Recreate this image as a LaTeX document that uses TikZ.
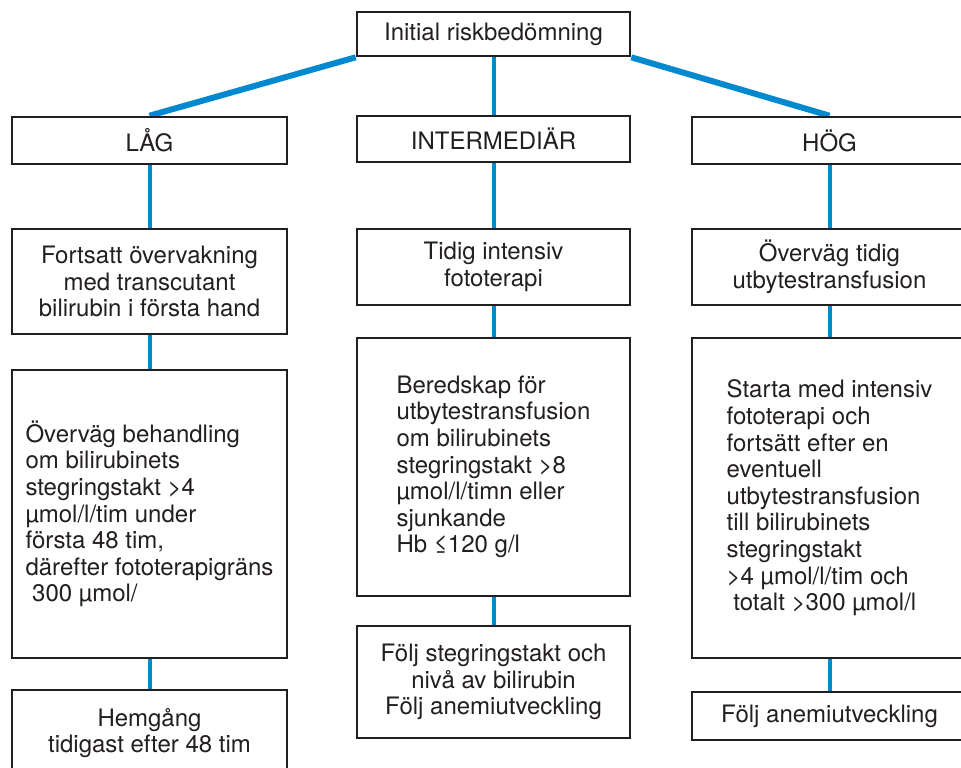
\documentclass[tikz,border=0pt]{standalone}
\usepackage{fontspec}
\setmainfont{TeX Gyre Heros}
\usetikzlibrary{backgrounds}

\definecolor{flodblue}{RGB}{0,137,207}
\definecolor{textgray}{RGB}{35,31,32}

\tikzset{
	ruta/.style={draw=textgray, line width=2.6pt, fill=white, text=textgray,
		font=\fontsize{24}{26.6}\selectfont, inner sep=0pt, align=center},
	gren/.style={draw=flodblue, line width=6pt},
	stam/.style={draw=flodblue, line width=4pt}
}

\begin{document}
\begin{tikzpicture}[x=1pt, y=-1pt]
	\useasboundingbox (0,0) rectangle (961,768);
	
	% Riskbedömning
	\node[ruta, minimum width=273pt, minimum height=44pt] (start) at (493.5, 34) {Initial riskbedömning};
	
	% Risknivåer
	\node[ruta, minimum width=275pt, minimum height=47pt] (lag) at (149.5, 140.5) {LÅG};
	\node[ruta, minimum width=273pt, minimum height=46pt] (inter) at (493.5, 139) {INTERMEDIÄR};
	\node[ruta, minimum width=275pt, minimum height=47pt] (hog) at (829.5, 140.5) {HÖG};
	
	% Första åtgärd
	\node[ruta, minimum width=275pt, minimum height=105pt] (lagA) at (149.5, 281.5) {Fortsatt övervakning\\ med transcutant\\ bilirubin i första hand};
	\node[ruta, minimum width=273pt, minimum height=76pt] (interA) at (493.5, 267) {Tidig intensiv\\ fototerapi};
	\node[ruta, minimum width=275pt, minimum height=76pt] (hogA) at (829.5, 267) {Överväg tidig\\ utbytestransfusion};
	
	% Behandling
	\node[ruta, align=left, minimum width=275pt, minimum height=288pt] (lagB) at (149.5, 514) {Överväg behandling\\ om bilirubinets\\ stegringstakt >4\\ µmol/l/tim under\\ första 48 tim,\\ därefter fototerapigräns\\ \ 300 µmol/};
	\node[ruta, align=left, minimum width=273pt, minimum height=258pt] (interB) at (493.5, 467) {Beredskap för\\ utbytestransfusion\\ om bilirubinets\\ stegringstakt >8\\ µmol/l/timn eller\\ sjunkande\\ Hb ≤120 g/l};
	\node[ruta, align=left, minimum width=275pt, minimum height=320pt] (hogB) at (829.5, 498) {Starta med intensiv\\ fototerapi och\\ fortsätt efter en\\ eventuell\\ utbytestransfusion\\ till bilirubinets\\ stegringstakt\\ >4 µmol/l/tim och\\ \ totalt >300 µmol/l};
	
	% Uppföljning
	\node[ruta, minimum width=275pt, minimum height=86pt] (lagC) at (149.5, 733) {Hemgång\\ tidigast efter 48 tim};
	\node[ruta, minimum width=273pt, minimum height=112pt] (interC) at (493.5, 682) {Följ stegringstakt och\\ nivå av bilirubin\\ Följ anemiutveckling};
	\node[ruta, minimum width=275pt, minimum height=48pt] (hogC) at (829.5, 716) {Följ anemiutveckling};
	
	% Kopplingar
	\begin{scope}[on background layer]
		\draw[gren] (start.south west) -- (lag.north);
		\draw[stam] (start.south) -- (inter.north);
		\draw[gren] (start.south east) -- (hog.north);
		\draw[stam] (lag.south) -- (lagA.north);
		\draw[stam] (lagA.south) -- (lagB.north);
		\draw[stam] (lagB.south) -- (lagC.north);
		\draw[stam] (inter.south) -- (interA.north);
		\draw[stam] (interA.south) -- (interB.north);
		\draw[stam] (interB.south) -- (interC.north);
		\draw[stam] (hog.south) -- (hogA.north);
		\draw[stam] (hogA.south) -- (hogB.north);
		\draw[stam] (hogB.south) -- (hogC.north);
	\end{scope}
\end{tikzpicture}
\end{document}
